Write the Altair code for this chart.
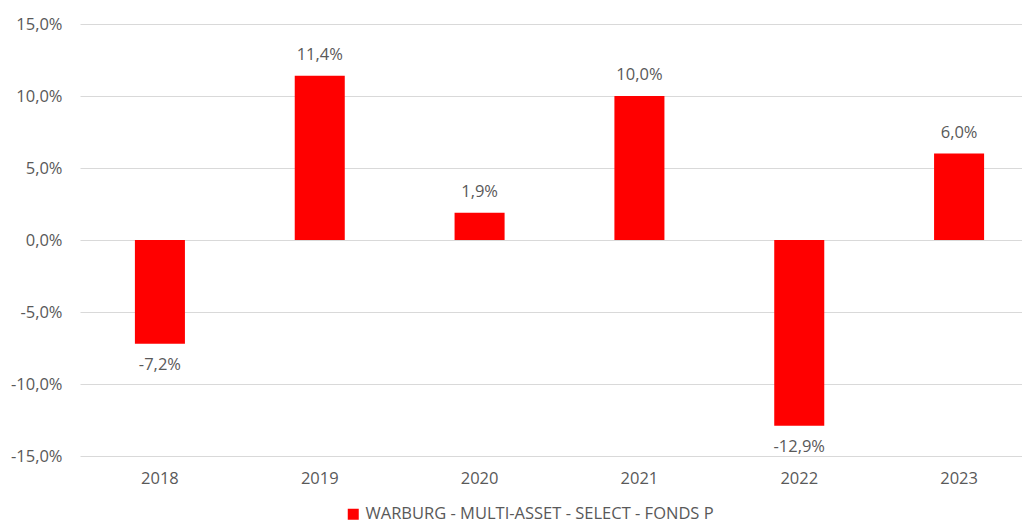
import altair as alt
import pandas as pd

years = ["2018", "2019", "2020", "2021", "2022", "2023"]
values = [-7.2, 11.4, 1.9, 10.0, -12.9, 6.0]
series_name = "WARBURG - MULTI-ASSET - SELECT - FONDS P"
y_ticks = [-15, -10, -5, 0, 5, 10, 15]

df = pd.DataFrame({"Jahr": years, "Wert": values, "Serie": [series_name] * len(years)})

FONT = "Open Sans"
GREY = "#595959"
FS = 16.5

fmt_expr = "replace(replace(format({v}, '.1f'), '.', ','), '\u2212', '-') + '%'"

base = alt.Chart(df).transform_calculate(
    label=fmt_expr.format(v="datum.Wert")
)

x_enc = alt.X(
    "Jahr:N",
    sort=years,
    scale=alt.Scale(range=[0, 959], paddingInner=0.687, paddingOuter=0.3435),
    axis=alt.Axis(
        title=None, labelAngle=0, domain=False, ticks=False, grid=False,
        labelPadding=14, labelFont=FONT, labelFontSize=FS, labelColor=GREY,
    ),
)
y_enc = alt.Y(
    "Wert:Q",
    scale=alt.Scale(domain=[-15, 15], nice=False),
    axis=alt.Axis(
        title=None, values=y_ticks, domain=False, ticks=False,
        gridColor="#D9D9D9", gridWidth=1,
        labelExpr=fmt_expr.format(v="datum.value"),
        labelPadding=18, labelFont=FONT, labelFontSize=FS, labelColor=GREY,
    ),
)

bars = base.mark_bar(color="#FF0000").encode(
    x=x_enc,
    y=y_enc,
    y2=alt.datum(0),
    color=alt.Color(
        "Serie:N",
        scale=alt.Scale(range=["#FF0000"]),
        legend=alt.Legend(
            title=None, orient="none", legendX=265, legendY=482,
            symbolType="square", symbolSize=121, symbolStrokeWidth=0,
            labelFont=FONT, labelFontSize=FS, labelColor=GREY,
            labelLimit=0, symbolOffset=0, labelOffset=4,
        ),
    ),
)

pos_labels = base.transform_filter("datum.Wert >= 0").mark_text(
    dy=-21, font=FONT, fontSize=FS, color=GREY, baseline="middle"
).encode(x=alt.X("Jahr:N", sort=years), y="Wert:Q", text="label:N")

neg_labels = base.transform_filter("datum.Wert < 0").mark_text(
    dy=21, font=FONT, fontSize=FS, color=GREY, baseline="middle"
).encode(x=alt.X("Jahr:N", sort=years), y="Wert:Q", text="label:N")

chart = alt.layer(bars, pos_labels, neg_labels).properties(
    width=942,
    height=432,
    autosize=alt.AutoSizeParams(type="none"),
    padding={"left": 72, "top": 16, "right": 0, "bottom": 67},
    background="white",
).configure_view(stroke=None)

chart.save("out.html", embed_options={"renderer": "svg", "actions": False})
